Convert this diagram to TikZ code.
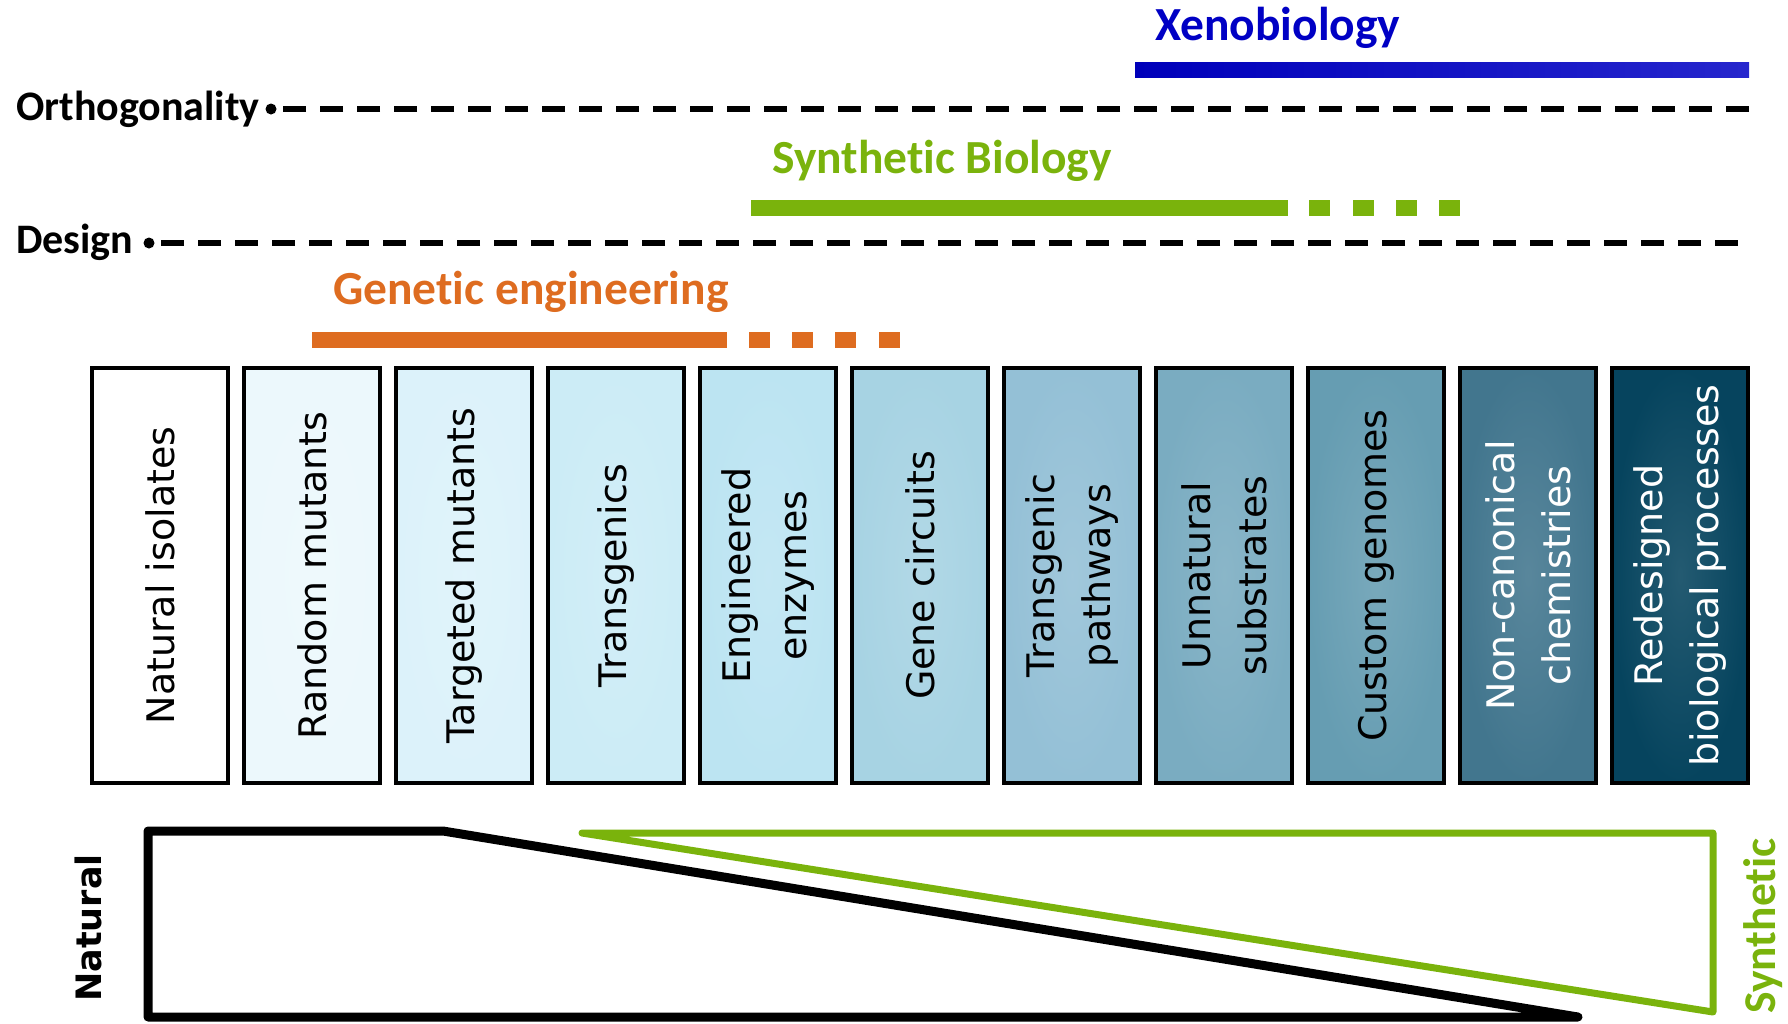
\documentclass[tikz,border=0pt]{standalone}
\usepackage{fontspec}
\setmainfont{DejaVu Sans}
\newfontfamily\calibri[RawFeature=-liga]{Carlito}
\newfontfamily\verdana{DejaVu Sans}
\definecolor{xblue}{RGB}{0,0,196}
\definecolor{sgreen}{RGB}{122,179,12}
\definecolor{gorange}{RGB}{222,108,32}
\definecolor{c1}{RGB}{255,255,255}
\definecolor{c2}{RGB}{236,248,252}
\definecolor{c3}{RGB}{220,242,250}
\definecolor{c4}{RGB}{204,236,246}
\definecolor{c5}{RGB}{188,228,242}
\definecolor{c6}{RGB}{167,211,227}
\definecolor{c7}{RGB}{148,192,214}
\definecolor{c8}{RGB}{122,172,193}
\definecolor{c9}{RGB}{102,157,178}
\definecolor{c10}{RGB}{66,118,142}
\definecolor{c11}{RGB}{6,68,94}
\tikzset{
  stagebox/.style={draw=black, line width=4pt, minimum width=136pt, minimum height=415pt, inner sep=0pt, shading=radial, inner color=#1!88!white, outer color=#1},
  stagetext/.style={rotate=90, align=center, inner sep=0pt, font=\verdana\fontsize{38}{56}\selectfont},
  headbig/.style={anchor=base west, inner sep=0pt, font=\calibri\bfseries\fontsize{47.5}{57}\selectfont},
  headaxis/.style={anchor=base west, inner sep=0pt, font=\calibri\bfseries\fontsize{42}{50}\selectfont},
  axisline/.style={line width=6pt, dash pattern=on 23pt off 14pt},
  axisdot/.style={circle, fill=black, inner sep=0pt, minimum size=11pt},
}
\begin{document}
\begin{tikzpicture}[x=1pt,y=-1pt]
\useasboundingbox (0,0) rectangle (1788,1023);

% Xenobiology
\node[headbig, text=xblue] (xeno) at (1155,40) {Xenobiology};
\fill[left color=xblue!95!black, right color=xblue!85!white] (1135,62) rectangle (1749,77);

% Orthogonality axis
\node[headaxis] (orth) at (16,120) {Orthogonality};
\node[axisdot] (orthdot) at (271,109) {};
\coordinate (orthend) at (1749,109);
\draw[axisline] (orthend) -- (orthdot.center);

% Synthetic Biology
\node[headbig, text=sgreen] (synbio) at (772,173) {Synthetic Biology};
\fill[sgreen] (751,200) rectangle (1288,216);
\foreach \x in {1309,1353,1396,1439} \fill[sgreen] (\x,200) rectangle ++(21,16);

% Design axis
\node[headaxis] (design) at (16,253) {Design};
\node[axisdot] (designdot) at (149,243) {};
\coordinate (designend) at (1738,243);
\draw[axisline] (designend) -- (designdot.center);

% Genetic engineering
\node[headbig, text=gorange] (geneng) at (333,304) {Genetic engineering};
\fill[gorange] (312,332) rectangle (727,348);
\foreach \x in {749,792,835,879} \fill[gorange] (\x,332) rectangle ++(21,16);

% Stage boxes
\node[stagebox=c1] (b1) at (160,575.5) {};
\node[stagebox=c2] (b2) at (312,575.5) {};
\node[stagebox=c3] (b3) at (464,575.5) {};
\node[stagebox=c4] (b4) at (616,575.5) {};
\node[stagebox=c5] (b5) at (768,575.5) {};
\node[stagebox=c6] (b6) at (920,575.5) {};
\node[stagebox=c7] (b7) at (1072,575.5) {};
\node[stagebox=c8] (b8) at (1224,575.5) {};
\node[stagebox=c9] (b9) at (1376,575.5) {};
\node[stagebox=c10] (b10) at (1528,575.5) {};
\node[stagebox=c11] (b11) at (1680,575.5) {};

\node[stagetext] (t1) at (b1) {Natural isolates};
\node[stagetext] (t2) at (b2) {Random mutants};
\node[stagetext] (t3) at (b3) {Targeted mutants};
\node[stagetext] (t4) at (b4) {Transgenics};
\node[stagetext] (t5) at (b5) {Engineered\\enzymes};
\node[stagetext] (t6) at (b6) {Gene circuits};
\node[stagetext] (t7) at (b7) {Transgenic\\pathways};
\node[stagetext] (t8) at (b8) {Unnatural\\substrates};
\node[stagetext] (t9) at (b9) {Custom genomes};
\node[stagetext, text=white] (t10) at (b10) {Non-canonical\\chemistries};
\node[stagetext, text=white] (t11) at (b11) {Redesigned\\biological processes};

% Natural / Synthetic wedges
\coordinate (n1) at (148,831);
\coordinate (n2) at (443,831);
\coordinate (n3) at (1578,1017);
\coordinate (n4) at (148,1017);
\draw[line width=9pt, line join=round] (n1) -- (n2) -- (n3) -- (n4) -- cycle;

\coordinate (s1) at (582,833);
\coordinate (s2) at (1713,833);
\coordinate (s3) at (1713,1012);
\draw[sgreen, line width=7pt, line join=round, line cap=round] (s1) -- (s2) -- (s3) -- cycle;

\node[rotate=90, inner sep=0pt, font=\verdana\bfseries\fontsize{35}{42}\selectfont] (natural) at (88,928) {Natural};
\node[rotate=90, inner sep=0pt, text=sgreen, font=\calibri\bfseries\fontsize{45.5}{55}\selectfont] (synthetic) at (1763,926) {Synthetic};
\end{tikzpicture}
\end{document}
